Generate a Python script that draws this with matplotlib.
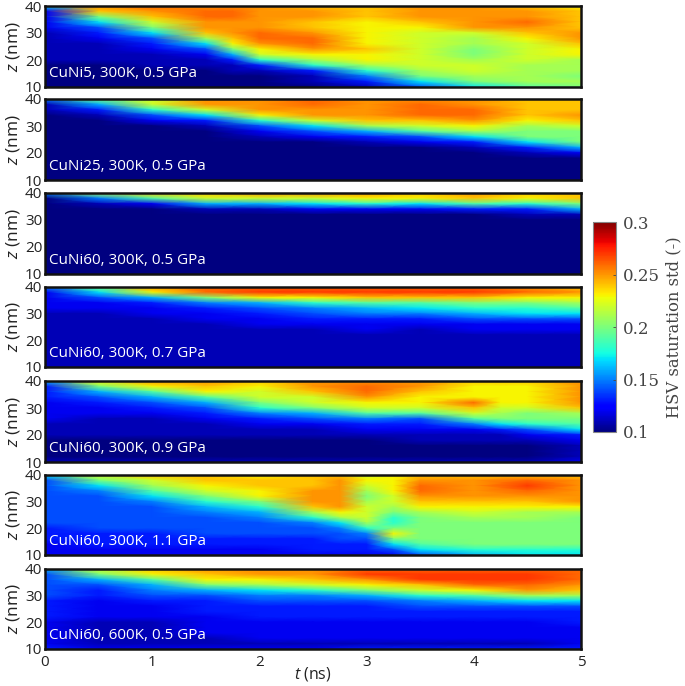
import matplotlib
matplotlib.use('Agg')
import matplotlib.pyplot as plt
import numpy as np

plt.rcParams.update({
    'font.family': 'Open Sans',
    'mathtext.fontset': 'custom',
    'mathtext.rm': 'Open Sans',
    'mathtext.it': 'Open Sans:italic',
})

W, H = 685, 686

# ── Data: saturation std in hundredths, rows are z = 40, 38, ... 10 ─────────

Z = list(range(40, 9, -2))
T_EVEN = [0, .5, 1, 1.5, 2, 2.5, 3, 3.5, 4, 4.5, 5]
T_NI5 = [0, .5, 1, 1.5, 1.75, 2, 2.5, 3, 3.5, 4, 4.5, 5]
T_09 = [0, .5, 1, 1.5, 2, 2.5, 3, 3.5, 4, 4.25, 4.5, 5]
T_11 = [0, .5, 1, 1.5, 2, 2.5, 2.75, 3, 3.25, 3.5, 4, 4.5, 5]

NI5_300K_05 = [
    [17, 25, 26, 25, 25, 25, 24, 24, 25, 25, 24, 23],
    [12, 24, 25, 26, 26, 25, 25, 24, 25, 25, 25, 24],
    [12, 20, 24, 26, 26, 25, 25, 24, 25, 25, 25, 24],
    [12, 17, 22, 25, 25, 25, 24, 23, 24, 25, 26, 24],
    [12, 14, 20, 25, 25, 25, 24, 23, 23, 25, 25, 24],
    [11, 13, 17, 24, 25, 26, 25, 23, 22, 22, 24, 25],
    [11, 12, 14, 21, 24, 26, 26, 23, 22, 21, 23, 25],
    [11, 11, 13, 17, 23, 25, 26, 23, 22, 21, 22, 24],
    [11, 11, 12, 14, 20, 23, 25, 24, 22, 20, 22, 23],
    [11, 11, 11, 12, 16, 22, 23, 23, 22, 20, 22, 23],
    [11, 11, 11, 11, 13, 18, 21, 23, 22, 21, 22, 21],
    [10, 10, 11, 11, 11, 13, 18, 21, 22, 22, 21, 21],
    [10, 10, 10, 10, 11, 11, 13, 18, 21, 22, 21, 21],
    [10, 10, 10, 10, 10, 10, 11, 15, 20, 21, 21, 20],
    [10, 10, 10, 10, 10, 10, 11, 13, 17, 20, 21, 21],
    [10, 10, 10, 10, 10, 10, 10, 11, 14, 17, 19, 20],
]
NI25_300K_05 = [
    [15, 20, 22, 25, 25, 26, 25, 25, 25, 24, 24],
    [11, 16, 22, 25, 25, 26, 25, 26, 25, 24, 24],
    [11, 13, 18, 22, 25, 25, 25, 26, 26, 24, 24],
    [10, 11, 14, 17, 23, 25, 25, 26, 26, 24, 25],
    [10, 10, 12, 13, 18, 22, 24, 24, 25, 23, 24],
    [10, 10, 10, 11, 14, 17, 21, 22, 23, 21, 22],
    [10, 10, 10, 10, 12, 14, 16, 19, 21, 20, 20],
    [10, 10, 10, 10, 11, 12, 13, 14, 17, 20, 20],
    [10, 10, 10, 10, 10, 10, 11, 12, 13, 17, 20],
    [10, 10, 10, 10, 10, 10, 10, 10, 11, 13, 16],
    [10, 10, 10, 10, 10, 10, 10, 10, 10, 11, 12],
    [10, 10, 10, 10, 10, 10, 10, 10, 10, 10, 10],
    [10, 10, 10, 10, 10, 10, 10, 10, 10, 10, 10],
    [10, 10, 10, 10, 10, 10, 10, 10, 10, 10, 10],
    [10, 10, 10, 10, 10, 10, 10, 10, 10, 10, 10],
    [10, 10, 10, 10, 10, 10, 10, 10, 10, 10, 10],
]
NI60_300K_05 = [
    [15, 21, 24, 24, 25, 25, 25, 24, 25, 24, 24],
    [10, 15, 19, 22, 22, 22, 23, 23, 24, 23, 24],
    [10, 11, 12, 16, 16, 17, 18, 17, 19, 18, 20],
    [10, 10, 10, 11, 11, 12, 12, 12, 13, 13, 16],
    [10, 10, 10, 10, 10, 10, 10, 10, 10, 11, 11],
    [10, 10, 10, 10, 10, 10, 10, 10, 10, 10, 10],
    [10, 10, 10, 10, 10, 10, 10, 10, 10, 10, 10],
    [10, 10, 10, 10, 10, 10, 10, 10, 10, 10, 10],
    [10, 10, 10, 10, 10, 10, 10, 10, 10, 10, 10],
    [10, 10, 10, 10, 10, 10, 10, 10, 10, 10, 10],
    [10, 10, 10, 10, 10, 10, 10, 10, 10, 10, 10],
    [10, 10, 10, 10, 10, 10, 10, 10, 10, 10, 10],
    [10, 10, 10, 10, 10, 10, 10, 10, 10, 10, 10],
    [10, 10, 10, 10, 10, 10, 10, 10, 10, 10, 10],
    [10, 10, 10, 10, 10, 10, 10, 10, 10, 10, 10],
    [10, 10, 10, 10, 10, 10, 10, 10, 10, 10, 10],
]
NI60_300K_07 = [
    [15, 20, 25, 26, 26, 26, 26, 26, 26, 25, 24],
    [12, 17, 23, 26, 27, 27, 27, 27, 27, 26, 25],
    [12, 14, 16, 20, 23, 23, 24, 24, 24, 23, 23],
    [12, 12, 13, 15, 16, 18, 19, 19, 20, 20, 21],
    [12, 12, 12, 13, 14, 15, 16, 17, 18, 18, 19],
    [11, 11, 12, 12, 13, 14, 15, 15, 16, 17, 17],
    [11, 11, 11, 12, 12, 13, 13, 13, 14, 14, 14],
    [11, 11, 11, 11, 12, 12, 12, 12, 12, 12, 12],
    [11, 11, 11, 11, 11, 11, 12, 11, 12, 12, 12],
    [11, 11, 11, 11, 11, 11, 11, 11, 11, 11, 11],
    [11, 11, 11, 11, 11, 11, 11, 11, 11, 11, 11],
    [11, 11, 11, 11, 11, 11, 11, 11, 11, 11, 11],
    [11, 11, 11, 11, 11, 11, 11, 11, 11, 11, 11],
    [11, 11, 11, 11, 11, 11, 11, 11, 11, 11, 11],
    [11, 11, 11, 11, 11, 11, 11, 11, 11, 11, 11],
    [11, 11, 11, 11, 11, 11, 11, 11, 11, 11, 11],
]
NI60_300K_09 = [
    [16, 23, 25, 25, 24, 25, 25, 25, 24, 24, 24, 25],
    [13, 20, 23, 24, 23, 25, 26, 25, 23, 23, 23, 25],
    [13, 16, 19, 23, 22, 24, 26, 24, 23, 23, 23, 25],
    [13, 14, 16, 19, 22, 22, 25, 23, 23, 23, 23, 25],
    [12, 13, 14, 16, 20, 22, 23, 23, 26, 23, 23, 25],
    [12, 12, 13, 14, 18, 20, 22, 22, 24, 22, 22, 24],
    [12, 12, 12, 13, 15, 16, 19, 19, 22, 21, 20, 21],
    [12, 11, 11, 12, 13, 14, 15, 14, 19, 20, 20, 20],
    [11, 11, 11, 11, 12, 12, 13, 13, 15, 17, 18, 19],
    [11, 11, 11, 11, 11, 11, 12, 12, 12, 13, 14, 17],
    [11, 11, 11, 11, 11, 11, 11, 11, 11, 11, 12, 13],
    [10, 10, 10, 10, 10, 10, 10, 11, 11, 11, 11, 12],
    [10, 10, 10, 10, 10, 10, 10, 10, 10, 10, 10, 11],
    [10, 10, 10, 10, 10, 10, 10, 10, 10, 10, 10, 11],
    [10, 10, 10, 10, 10, 10, 10, 10, 10, 10, 10, 11],
    [11, 11, 11, 11, 11, 11, 11, 11, 11, 11, 11, 12],
]
NI60_300K_11 = [
    [17, 22, 24, 24, 23, 24, 24, 22, 23, 24, 24, 24, 24],
    [14, 20, 22, 24, 24, 24, 25, 23, 23, 25, 25, 26, 25],
    [14, 17, 21, 23, 24, 24, 25, 22, 23, 26, 25, 27, 25],
    [14, 15, 19, 22, 23, 25, 25, 21, 23, 26, 25, 26, 25],
    [14, 14, 17, 20, 23, 25, 25, 20, 22, 25, 25, 25, 25],
    [14, 14, 15, 18, 20, 25, 25, 21, 22, 24, 24, 24, 25],
    [14, 14, 14, 16, 18, 24, 25, 22, 21, 23, 23, 23, 23],
    [14, 14, 14, 15, 16, 21, 23, 22, 20, 21, 22, 21, 21],
    [14, 14, 14, 14, 15, 18, 21, 22, 18, 20, 21, 21, 20],
    [14, 14, 14, 14, 14, 15, 17, 21, 18, 20, 20, 20, 20],
    [13, 14, 14, 14, 14, 14, 15, 18, 20, 20, 20, 20, 20],
    [13, 13, 13, 14, 14, 14, 14, 15, 23, 20, 20, 20, 20],
    [13, 13, 13, 13, 13, 13, 14, 14, 20, 20, 20, 20, 20],
    [12, 13, 13, 13, 13, 13, 13, 13, 17, 19, 20, 20, 20],
    [12, 12, 12, 12, 12, 13, 13, 13, 14, 17, 18, 18, 18],
    [12, 12, 12, 12, 12, 12, 12, 12, 12, 14, 16, 17, 17],
]
NI60_600K_05 = [
    [16, 22, 24, 25, 25, 25, 26, 26, 26, 26, 26],
    [14, 20, 23, 24, 25, 25, 27, 27, 27, 27, 26],
    [14, 16, 19, 23, 23, 24, 25, 27, 27, 27, 26],
    [14, 14, 16, 20, 21, 22, 23, 24, 26, 26, 25],
    [14, 13, 15, 16, 17, 18, 20, 22, 23, 25, 24],
    [14, 13, 14, 14, 15, 15, 16, 18, 19, 21, 21],
    [13, 12, 13, 13, 14, 14, 14, 15, 16, 17, 17],
    [13, 12, 12, 13, 13, 13, 13, 14, 14, 14, 14],
    [13, 12, 12, 13, 13, 13, 13, 13, 13, 13, 13],
    [13, 12, 12, 12, 13, 13, 13, 13, 13, 13, 13],
    [12, 11, 11, 12, 12, 12, 12, 12, 12, 12, 13],
    [12, 11, 11, 12, 12, 12, 12, 12, 12, 12, 12],
    [12, 11, 11, 12, 12, 12, 12, 12, 12, 12, 12],
    [12, 11, 11, 11, 12, 12, 12, 12, 12, 12, 12],
    [12, 11, 11, 11, 11, 11, 11, 11, 11, 11, 12],
    [13, 12, 12, 12, 12, 12, 13, 13, 13, 13, 13],
]

PANEL_LABELS = [
    'CuNi5, 300K, 0.5 GPa', 'CuNi25, 300K, 0.5 GPa', 'CuNi60, 300K, 0.5 GPa',
    'CuNi60, 300K, 0.7 GPa', 'CuNi60, 300K, 0.9 GPa', 'CuNi60, 300K, 1.1 GPa',
    'CuNi60, 600K, 0.5 GPa',
]
PANEL_T = [T_NI5, T_EVEN, T_EVEN, T_EVEN, T_09, T_11, T_EVEN]
PANEL_VALUES = [NI5_300K_05, NI25_300K_05, NI60_300K_05, NI60_300K_07,
                NI60_300K_09, NI60_300K_11, NI60_600K_05]

Z_TICKS = [10, 20, 30, 40]
T_TICKS = [0, 1, 2, 3, 4, 5]
CBAR_TICKS = [0.1, 0.15, 0.2, 0.25, 0.3]
CBAR_LABELS = ['0.1', '0.15', '0.2', '0.25', '0.3']

# top and bottom pixel rows of each panel
PANEL_Y = [(6, 87), (99, 180), (193, 274), (287, 367), (381, 462), (475, 555), (569, 649)]
LEFT, RIGHT = 45, 581


def px_axes(fig, x0, y0, x1, y1):
    return fig.add_axes([x0 / W, 1 - y1 / H, (x1 - x0) / W, (y1 - y0) / H])


fig = plt.figure(figsize=(W / 100, H / 100), dpi=100)

for i, (label, t, vals, (y0, y1)) in enumerate(zip(PANEL_LABELS, PANEL_T, PANEL_VALUES, PANEL_Y)):
    ax = px_axes(fig, LEFT, y0, RIGHT, y1)
    mesh = ax.pcolormesh(t, Z, np.array(vals) / 100, shading='gouraud',
                         cmap='jet', vmin=0.1, vmax=0.3, rasterized=True)
    ax.set_xlim(0, 5)
    ax.set_ylim(10, 40)
    ax.set_yticks(Z_TICKS)
    ax.tick_params(length=0, labelsize=11, pad=2, colors='#222222')
    ax.tick_params(axis='x', pad=4)
    ax.set_ylabel(r'$\it{z}$ (nm)', fontsize=12.5, labelpad=2, color='#222222')
    ax.text(0.008, 0.075, label, transform=ax.transAxes, color='white',
            fontsize=11, va='bottom', ha='left')
    for s in ax.spines.values():
        s.set_linewidth(1.8)
        s.set_color('#111111')
    if i == len(PANEL_LABELS) - 1:
        ax.set_xticks(T_TICKS)
        ax.set_xlabel(r'$\it{t}$ (ns)', fontsize=11.5, labelpad=-3, color='#222222')
    else:
        ax.set_xticks([])

# ── Colorbar ────────────────────────────────────────────────────────────────

cax = px_axes(fig, 593, 222, 616, 432)
cb = fig.colorbar(mesh, cax=cax)
cb.set_ticks(CBAR_TICKS)
cb.set_ticklabels(CBAR_LABELS)
cb.outline.set_edgecolor('#888888')
cb.outline.set_linewidth(0.8)
cax.tick_params(length=2, direction='in', width=0.6, pad=5, labelsize=12, colors='#444444')
for tl in cax.get_yticklabels():
    tl.set_family('DejaVu Serif')
cb.set_label('HSV saturation std (-)', family='DejaVu Serif', fontsize=11.8,
             color='#444444', labelpad=4)

fig.savefig('out.png', dpi=100)
